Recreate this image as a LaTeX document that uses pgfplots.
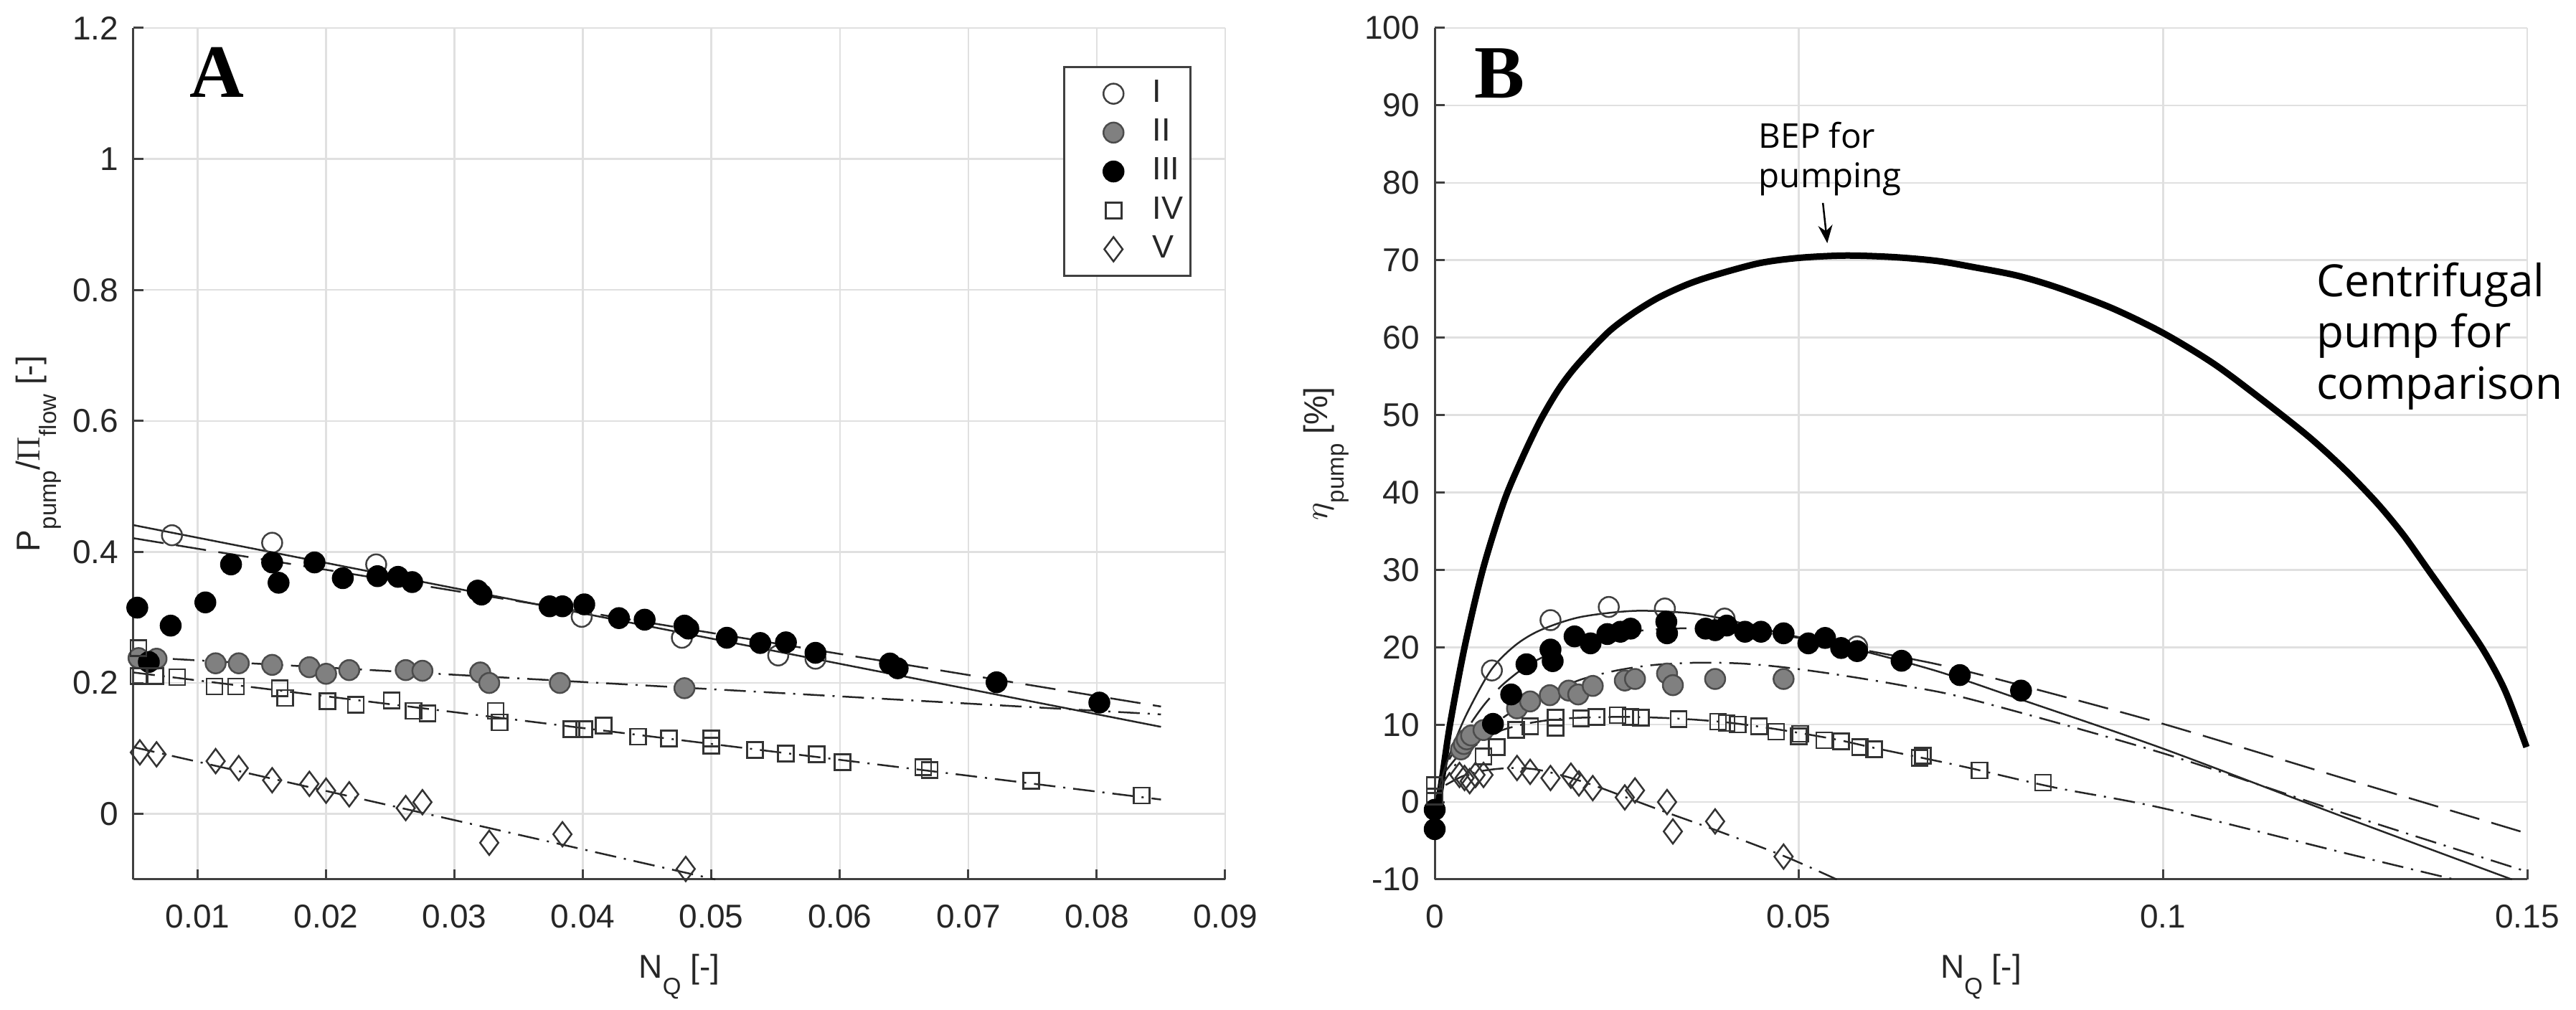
\documentclass[border=0pt]{standalone}
\usepackage{fontspec}
\setmainfont{Liberation Sans}
\newfontfamily\osans{Open Sans}
\newfontfamily\lserif{Liberation Serif}
\usepackage{pgfplots}
\pgfplotsset{compat=1.18}
\usetikzlibrary{arrows.meta}
\newcommand{\sub}[1]{\raisebox{-4.6pt}{\fontsize{6.6}{7}\selectfont #1}}
\definecolor{gridc}{gray}{0.88}
\definecolor{axc}{gray}{0.25}
\definecolor{fillII}{gray}{0.50}
\pgfplotsset{
  myax/.style={
    scale only axis,
    height=237.4pt,
    axis x line*=bottom, axis y line*=left,
    axis line style={axc, line width=0.6pt, -},
    every outer x axis line/.append style={-},
    every outer y axis line/.append style={-},
    tick style={axc, line width=0.6pt},
    tick align=inside,
    major tick length=2.8pt,
    grid=major,
    major grid style={gridc, line width=0.5pt},
    scaled x ticks=false, scaled y ticks=false,
    tick label style={font=\fontsize{9.2}{11}\selectfont, text=black!85},
    xticklabel style={anchor=base, yshift=-13.6pt},
    yticklabel style={anchor=east, inner sep=0pt, xshift=-4pt},
    label style={font=\fontsize{9.2}{11}\selectfont, text=black!85},
    xlabel style={at={(axis description cs:0.5,-0.1158)}, anchor=base},
    clip=false,
    /pgf/number format/assume math mode=true,
  },
  fitline/.style={black!85, line width=0.5pt, no marks, forget plot},
  dd/.style={dash pattern=on 6pt off 2.2pt on 0.6pt off 2.2pt},
  ds/.style={dash pattern=on 8.5pt off 3.5pt},
  mI/.style={only marks, mark=o, mark size=2.8pt, mark options={draw=black!75, line width=0.5pt}},
  mII/.style={only marks, mark=*, mark size=2.8pt, mark options={fill=fillII, draw=black!70, line width=0.5pt}},
  mIII/.style={only marks, mark=*, mark size=2.8pt, mark options={fill=black, draw=black, line width=0.5pt}},
  mIV/.style={only marks, mark=square, mark size=2.2pt, mark options={draw=black!80, line width=0.5pt}},
  mV/.style={only marks, mark=diamond, mark size=3.4pt, mark options={draw=black!80, line width=0.5pt}},
  myleg/.style={legend image code/.code={\draw[##1] plot coordinates {(13.4pt,0pt)}; \path (0pt,0pt) (22pt,0pt);}},
}
\begin{document}
\begin{tikzpicture}
\path[use as bounding box] (0,0) rectangle (718.2pt,281.4pt);
% ================= Panel A =================
\begin{axis}[myax, at={(37.2pt,36.2pt)}, anchor=south west, width=304.4pt,
  xmin=0.005, xmax=0.09, ymin=-0.1, ymax=1.2,
  xtick={0.01,0.02,0.03,0.04,0.05,0.06,0.07,0.08,0.09},
  xticklabels={0.01,0.02,0.03,0.04,0.05,0.06,0.07,0.08,0.09},
  ytick={0,0.2,0.4,0.6,0.8,1,1.2},
  yticklabels={0,0.2,0.4,0.6,0.8,1,1.2},
  xlabel={N\sub{Q} [-]},
  ylabel={P\sub{pump}/$\Pi$\sub{flow} [-]},
  ylabel style={at={(axis description cs:-0.086,0.5)}, anchor=base},
  legend style={at={(axis description cs:0.969,0.955)}, anchor=north east,
    draw=axc, line width=0.6pt, fill=white,
    font=\fontsize{9}{10}\selectfont, text=black!85,
    inner xsep=0pt, inner ysep=2.5pt, row sep=1.15pt,
    nodes={inner ysep=1pt}},
  legend cell align=left,
]
\addplot[fitline] coordinates {(0.005,0.441) (0.085,0.133)};
\addplot[fitline, ds] coordinates {(0.005,0.421) (0.085,0.164)};
\addplot[fitline, dd] coordinates {(0.005,0.240) (0.085,0.152)};
\addplot[fitline, dd] coordinates {(0.005,0.216) (0.085,0.022)};
\addplot[fitline, dd] coordinates {(0.005,0.102) (0.0503,-0.1)};
% I
\addplot[mI, myleg] coordinates {(0.0080,0.4255) (0.0158,0.414) (0.0239,0.381) (0.0399,0.301) (0.0477,0.269) (0.0552,0.242) (0.0581,0.237)};
\addlegendentry{I}
% II
\addplot[mII, myleg] coordinates {(0.0054,0.238) (0.0068,0.237) (0.0114,0.230) (0.0132,0.230) (0.0158,0.2276) (0.0187,0.224) (0.0200,0.214) (0.0218,0.2196) (0.0262,0.2196) (0.0275,0.2186) (0.0320,0.216) (0.0327,0.200) (0.0382,0.200) (0.0479,0.192)};
\addlegendentry{II}
% III
\addplot[mIII, myleg] coordinates {(0.0053,0.315) (0.0062,0.232) (0.0079,0.2875) (0.0106,0.323) (0.0126,0.381) (0.0158,0.384) (0.0163,0.353) (0.0191,0.384) (0.0213,0.360) (0.0240,0.363) (0.0256,0.362) (0.0267,0.354) (0.0318,0.341) (0.0321,0.335) (0.0374,0.317) (0.0384,0.317) (0.0401,0.320) (0.0428,0.299) (0.0448,0.2966) (0.0479,0.2875) (0.0482,0.283) (0.0512,0.269) (0.0538,0.261) (0.0558,0.262) (0.0581,0.246) (0.0639,0.2297) (0.0645,0.2224) (0.0722,0.201) (0.0802,0.170)};
\addlegendentry{III}
% IV
\addplot[mIV, myleg] coordinates {(0.0054,0.253) (0.0054,0.2106) (0.0067,0.2106) (0.0084,0.209) (0.0113,0.1947) (0.0130,0.1947) (0.0164,0.192) (0.0168,0.177) (0.0201,0.172) (0.0223,0.1666) (0.0251,0.1735) (0.0268,0.1576) (0.0279,0.1533) (0.0332,0.1576) (0.0335,0.140) (0.0391,0.1294) (0.0401,0.1294) (0.0416,0.1347) (0.0443,0.1178) (0.0467,0.1151) (0.0500,0.1151) (0.0500,0.1045) (0.0534,0.0976) (0.0558,0.0923) (0.0582,0.0912) (0.0602,0.079) (0.0665,0.0714) (0.0670,0.067) (0.0749,0.0505) (0.0835,0.028)};
\addlegendentry{IV}
% V
\addplot[mV, myleg] coordinates {(0.0055,0.094) (0.0068,0.091) (0.0114,0.0806) (0.0132,0.070) (0.0158,0.0515) (0.0187,0.046) (0.0200,0.0355) (0.0218,0.030) (0.0262,0.009) (0.0275,0.018) (0.0327,-0.044) (0.0384,-0.031) (0.0480,-0.084)};
\addlegendentry{V}
\node[anchor=base west, inner sep=0pt, font=\lserif\bfseries\fontsize{21}{21}\selectfont] at (axis cs:0.00935,1.0945) {A};
\end{axis}
% ================= Panel B =================
\begin{axis}[myax, at={(400pt,36.2pt)}, anchor=south west, width=304.6pt,
  xmin=0, xmax=0.15, ymin=-10, ymax=100,
  xtick={0,0.05,0.1,0.15},
  xticklabels={0,0.05,0.1,0.15},
  ytick={-10,0,10,20,30,40,50,60,70,80,90,100},
  yticklabels={-10,0,10,20,30,40,50,60,70,80,90,100},
  xlabel={N\sub{Q} [-]},
  ylabel={$\eta$\sub{pump} [\%]},
  ylabel style={at={(axis description cs:-0.098,0.5)}, anchor=base},
]
% centrifugal pump
\addplot[black, line width=1.8pt, smooth, no marks] coordinates {(0.0002,-2) (0.0010,3.0) (0.0021,10) (0.0041,20) (0.0066,30) (0.0095,38.8) (0.0120,44.4) (0.0145,49.3) (0.0170,53.3) (0.0195,56.4) (0.0237,60.6) (0.0270,63.0) (0.0306,65.1) (0.0345,66.8) (0.0382,68.0) (0.0445,69.6) (0.0500,70.3) (0.0564,70.6) (0.0630,70.4) (0.0690,69.9) (0.0740,69.1) (0.0800,68.0) (0.0857,66.4) (0.0930,63.8) (0.1000,60.6) (0.1070,56.6) (0.1137,51.9) (0.1200,47.2) (0.1249,43.0) (0.1294,38.6) (0.1330,34.5) (0.1364,30.0) (0.1400,25.2) (0.1440,19.6) (0.1470,14.3) (0.1499,7.1)};
% fits
\addplot[fitline, smooth] coordinates {(0.0006,2.0) (0.002,6.0) (0.0043,11.2) (0.0077,17.0) (0.0110,20.2) (0.0145,22.2) (0.020,23.9) (0.0275,24.7) (0.035,24.4) (0.040,23.6) (0.045,22.4) (0.050,21.3) (0.058,19.7) (0.069,16.9) (0.080,13.4) (0.100,6.9) (0.125,-2.0) (0.1479,-10)};
\addplot[fitline, ds, smooth] coordinates {(0.002,5.5) (0.0045,9.5) (0.0069,12.7) (0.0095,15.3) (0.013,17.8) (0.017,19.6) (0.022,21.1) (0.027,22.0) (0.032,22.4) (0.038,22.4) (0.044,22.0) (0.050,21.2) (0.058,19.8) (0.069,17.8) (0.080,15.2) (0.100,10.1) (0.125,3.0) (0.15,-4.06)};
\addplot[fitline, dd, smooth] coordinates {(0.0015,4.0) (0.004,6.8) (0.0075,9.6) (0.011,11.9) (0.015,13.8) (0.020,15.8) (0.025,17.0) (0.030,17.7) (0.036,18.0) (0.042,17.9) (0.048,17.4) (0.055,16.5) (0.064,15.1) (0.0739,13.2) (0.100,6.3) (0.125,-1.5) (0.15,-9.0)};
\addplot[fitline, dd, smooth] coordinates {(0.0005,1.5) (0.003,5.0) (0.006,7.6) (0.009,9.2) (0.013,10.2) (0.018,10.8) (0.0256,11.0) (0.033,10.8) (0.040,10.3) (0.047,9.4) (0.055,8.1) (0.0603,7.0) (0.069,5.3) (0.0739,4.3) (0.085,1.9) (0.100,-0.8) (0.125,-6.6) (0.140,-10)};
\addplot[fitline, dd, smooth] coordinates {(0.0015,2.2) (0.004,3.4) (0.007,4.1) (0.0106,4.4) (0.014,4.2) (0.018,3.3) (0.022,2.1) (0.026,0.7) (0.032,-1.4) (0.0385,-3.6) (0.048,-7.0) (0.0552,-10)};
% data
\addplot[mI, forget plot] coordinates {(0.00785,17.0) (0.0159,23.5) (0.0239,25.2) (0.0316,25.0) (0.0398,23.7) (0.058,20.1)};
\addplot[mII, forget plot] coordinates {(0.0036,6.8) (0.0040,7.5) (0.0044,8.1) (0.0050,8.6) (0.0067,9.3) (0.0113,12.1) (0.0131,13.0) (0.0158,13.8) (0.0184,14.4) (0.0197,13.9) (0.0217,15.0) (0.0261,15.7) (0.0275,15.9) (0.0319,16.6) (0.0327,15.1) (0.0385,15.9) (0.0479,15.9)};
\addplot[mIII, forget plot] coordinates {(0,-1.0) (0,-3.5) (0.0080,10.1) (0.0105,13.9) (0.0126,17.8) (0.0159,19.7) (0.0162,18.2) (0.0192,21.4) (0.0214,20.5) (0.0237,21.7) (0.0255,22.0) (0.0269,22.4) (0.0318,23.3) (0.0319,21.8) (0.0372,22.4) (0.0385,22.2) (0.0401,22.8) (0.0426,22.0) (0.0448,22.0) (0.0479,21.8) (0.0513,20.5) (0.0536,21.2) (0.0558,19.9) (0.0580,19.5) (0.0641,18.25) (0.0721,16.4) (0.0805,14.4)};
\addplot[mIV, forget plot] coordinates {(0,2.2) (0,0.7) (0.0067,5.9) (0.0085,7.1) (0.0112,9.3) (0.0131,9.8) (0.0166,9.6) (0.0166,10.9) (0.0201,10.8) (0.0222,11.0) (0.0251,11.2) (0.0269,11.0) (0.0283,10.9) (0.0335,10.7) (0.0389,10.4) (0.0401,10.2) (0.0416,10.0) (0.0445,9.8) (0.0469,9.1) (0.0500,8.5) (0.0502,8.8) (0.0535,8.0) (0.0558,7.85) (0.0584,7.1) (0.0603,6.8) (0.0666,5.7) (0.0670,6.0) (0.0748,4.1) (0.0835,2.5)};
\addplot[mV, forget plot] coordinates {(0.0034,3.5) (0.0041,3.1) (0.0048,2.7) (0.0056,3.5) (0.0067,3.5) (0.0113,4.4) (0.0131,3.9) (0.0159,3.1) (0.0187,3.4) (0.0198,2.4) (0.0217,1.8) (0.0261,0.6) (0.0275,1.5) (0.0319,0.0) (0.0327,-3.8) (0.0385,-2.5) (0.0479,-7.05)};
% annotations
\node[anchor=base west, inner sep=0pt, font=\lserif\bfseries\fontsize{21}{21}\selectfont] at (axis cs:0.0054,91.0) {B};
\node[anchor=base west, inner sep=0pt, font=\osans\fontsize{9.5}{11}\selectfont] at (axis cs:0.0444,84.5) {BEP for};
\node[anchor=base west, inner sep=0pt, font=\osans\fontsize{9.5}{11}\selectfont] at (axis cs:0.0444,79.4) {pumping};
\draw[-{Stealth[length=5pt,width=4pt]}, line width=0.5pt] (axis cs:0.0533,77.4) -- (axis cs:0.0539,72.2);
\node[anchor=base west, inner sep=0pt, font=\osans\fontsize{12.4}{14}\selectfont] at (axis cs:0.12096,65.33) {Centrifugal};
\node[anchor=base west, inner sep=0pt, font=\osans\fontsize{12.4}{14}\selectfont] at (axis cs:0.12096,58.75) {pump for};
\node[anchor=base west, inner sep=0pt, font=\osans\fontsize{12.4}{14}\selectfont] at (axis cs:0.12096,52.07) {comparison};
\end{axis}
\end{tikzpicture}
\end{document}
